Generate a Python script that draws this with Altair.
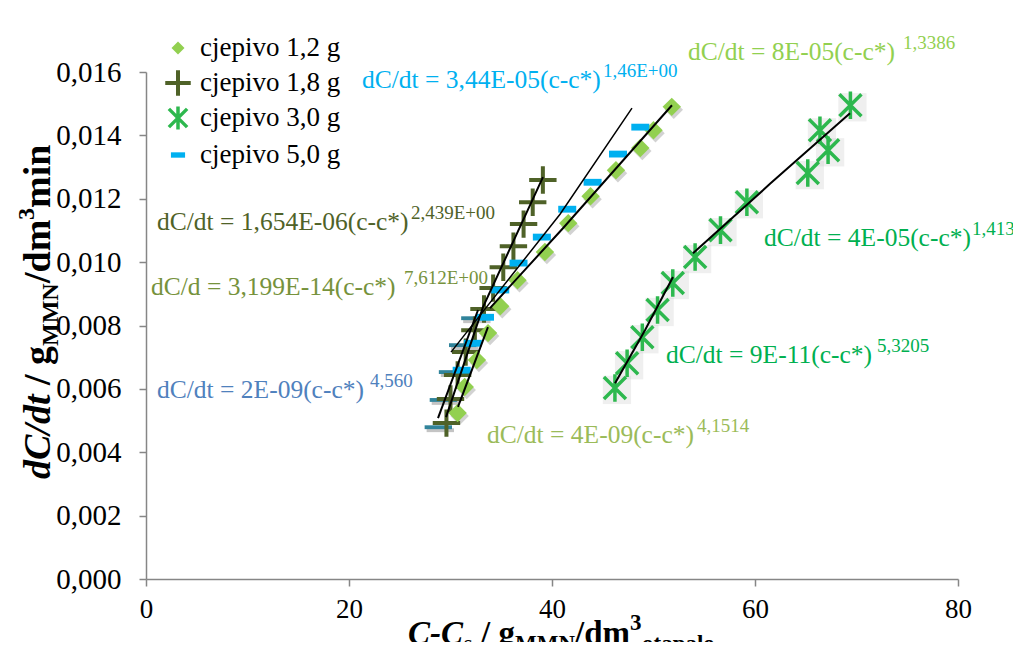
import altair as alt
import pandas as pd

# ---------------- data ----------------
x_12 = [51.8, 50.0, 48.7, 46.3, 43.8, 41.6, 39.3, 36.6, 34.9, 33.7, 32.6, 31.4, 30.7]
y_12 = [0.0149, 0.01416, 0.0136, 0.0129, 0.01208, 0.01123, 0.01032, 0.00943, 0.00861, 0.00776, 0.00691, 0.00606, 0.00524]
x_18 = [39.1, 38.1, 37.2, 36.2, 35.2, 34.2, 33.3, 32.4, 31.5, 30.7, 30.0, 29.6]
y_18 = [0.01259, 0.01189, 0.0112, 0.0105, 0.00984, 0.00918, 0.00852, 0.00785, 0.00716, 0.00644, 0.00568, 0.00492]
x_30 = [69.4, 66.4, 67.2, 65.2, 59.2, 56.6, 54.1, 51.9, 50.4, 48.9, 47.4, 46.2]
y_30 = [0.01495, 0.01416, 0.01353, 0.01281, 0.01189, 0.01101, 0.01016, 0.00934, 0.00849, 0.00763, 0.00681, 0.00603]
x_50 = [48.7, 46.5, 44.0, 41.5, 39.0, 36.7, 34.9, 33.4, 32.2, 31.1]
y_50 = [0.01426, 0.01341, 0.01252, 0.01167, 0.01079, 0.00997, 0.00912, 0.00826, 0.00744, 0.00659]
x_50b = [32.4, 31.2, 30.2, 29.3, 28.8]
y_50b = [0.00823, 0.00738, 0.00653, 0.00565, 0.00479]

# trend lines
fit_ids = ["A", "A", "A", "A", "B", "B", "B", "C", "C", "C", "D", "D", "E", "E", "S1", "S1", "S1", "S2", "S2", "S2"]
fit_x = [30.05, 34.09, 40.79, 47.88, 33.89, 41.08, 51.82, 29.56, 33.20, 39.11, 28.77, 32.71, 30.74, 33.69,
         46.21, 49.16, 51.92, 53.89, 61.48, 69.36]
fit_y = [0.00716, 0.00880, 0.01151, 0.01486, 0.00855, 0.01107, 0.01495, 0.00511, 0.00858, 0.01268, 0.00508,
         0.00849, 0.00543, 0.00795, 0.00618, 0.00785, 0.00953, 0.01028, 0.01247, 0.0147]

legend_labels = ["cjepivo 1,2 g", "cjepivo 1,8 g", "cjepivo 3,0 g", "cjepivo 5,0 g"]

eq_texts = ["dC/dt = 3,44E-05(c-c*)", "dC/dt = 8E-05(c-c*)", "dC/dt = 1,654E-06(c-c*)",
            "dC/d = 3,199E-14(c-c*)", "dC/dt = 2E-09(c-c*)", "dC/dt = 4E-09(c-c*)",
            "dC/dt = 4E-05(c-c*)", "dC/dt = 9E-11(c-c*)"]
eq_powers = ["1,46E+00", "1,3386", "2,439E+00", "7,612E+00", "4,560", "4,1514", "1,413", "5,3205"]

y_ticks = [0.0, 0.002, 0.004, 0.006, 0.008, 0.010, 0.012, 0.014, 0.016]
x_ticks = [0, 20, 40, 60, 80]

# ---------------- layout / style ----------------
FONT = "Times New Roman, Liberation Serif, DejaVu Serif, serif"
NB = "\u00a0"
W, H = 812, 507
OX, OY = 146, 72   # page position of plot origin

eq_colors = ["#00B0F0", "#92D050", "#4F6228", "#76923C", "#4F81BD", "#9BBB59", "#00B050", "#00B050"]
eq_pos = [(362, 80), (688, 52), (157, 222), (151, 287), (157, 390), (487, 435), (764, 238), (666, 355)]
pw_pos = [(603, 71), (903, 43), (411, 213), (404, 278), (370, 381), (697, 426), (972, 229), (877, 346)]

def pts(xs, ys):
    return pd.DataFrame({"x": xs, "y": ys})

xs = alt.Scale(domain=[0, 80], nice=False, zero=False)
ys = alt.Scale(domain=[0, 0.016], nice=False)

xax = alt.Axis(values=x_ticks, title=None, grid=False, domainColor="#868686", tickColor="#868686",
               tickSize=7, labelFont=FONT, labelFontSize=27, labelColor="black", labelPadding=10,
               domainWidth=1.5, tickWidth=1.5, labelFlush=False)
yax = alt.Axis(values=y_ticks, title=None, grid=False, domainColor="#868686", tickColor="#868686",
               tickSize=7, labelFont=FONT, labelFontSize=29, labelColor="black", labelPadding=18,
               domainWidth=1.5, tickWidth=1.5, labelExpr="replace(format(datum.value, '.3f'), '.', ',')")

def enc(ch):
    return ch.encode(x=alt.X("x:Q", scale=xs, axis=xax), y=alt.Y("y:Q", scale=ys, axis=yax))

PLUS = "M-1,0L1,0M0,-1L0,1"
STAR = "M-0.8,-0.8L0.8,0.8M-0.8,0.8L0.8,-0.8M0,-1L0,1"
DASH = "M-1,-0.38L1,-0.38L1,0.38L-1,0.38Z"
DASHB = "M-1,-0.14L1,-0.14L1,0.14L-1,0.14Z"

fits = pd.DataFrame({"fit": fit_ids, "x": fit_x, "y": fit_y})
fits["w"] = fits["fit"].map({"A": 1.5}).fillna(2.0)

layers = []
# shadows
layers.append(enc(alt.Chart(pts(x_12, y_12)).mark_point(shape="diamond", filled=True, size=340, color="#7f7f7f",
                                                      opacity=0.35, xOffset=2, yOffset=3)))
layers.append(enc(alt.Chart(pts(x_50b, y_50b)).mark_point(shape=DASHB, filled=True, size=750, color="#555555",
                                                        opacity=0.35, xOffset=2, yOffset=3, strokeWidth=0)))
layers.append(enc(alt.Chart(pts(x_50b, y_50b)).mark_point(shape=DASHB, filled=True, size=750, color="#31849B",
                                                        opacity=1, strokeWidth=0)))
layers.append(enc(alt.Chart(pts(x_18, y_18)).mark_point(shape=PLUS, filled=False, size=750, color="#4F6228",
                                                      strokeWidth=4, opacity=1)))
layers.append(enc(alt.Chart(pts(x_12, y_12)).mark_point(shape="diamond", filled=True, size=340, color="#92D050",
                                                      opacity=1, strokeWidth=0)))
layers.append(enc(alt.Chart(pts(x_50, y_50)).mark_point(shape=DASH, filled=True, size=324, color="#00B0F0",
                                                      opacity=1, strokeWidth=0)))
layers.append(enc(alt.Chart(pts(x_30, y_30)).mark_point(shape="square", filled=True, size=800, color="#bfbfbf",
                                                      opacity=0.25, xOffset=2, yOffset=2, strokeWidth=0)))
layers.append(enc(alt.Chart(pts(x_30, y_30)).mark_point(shape=STAR, filled=False, size=760, color="#2DB84E",
                                                      strokeWidth=3.5, opacity=1)))
layers.append(alt.Chart(fits).mark_line(color="black").encode(
    x=alt.X("x:Q", scale=xs, axis=xax), y=alt.Y("y:Q", scale=ys, axis=yax), detail="fit:N",
    size=alt.Size("w:Q", scale=None, legend=None)))

# ---------------- text helpers ----------------
def txt(df, **props):
    return alt.Chart(df).mark_text(font=FONT, **props).encode(
        x=alt.X("px:Q", scale=None, axis=None), y=alt.Y("py:Q", scale=None, axis=None),
        text="t:N", color=alt.Color("c:N", scale=None, legend=None))

eq_df = pd.DataFrame({"t": eq_texts, "px": [p[0] - OX for p in eq_pos], "py": [p[1] - OY for p in eq_pos],
                      "c": eq_colors})
pw_df = pd.DataFrame({"t": eq_powers, "px": [p[0] - OX for p in pw_pos], "py": [p[1] - OY for p in pw_pos],
                      "c": eq_colors})
layers.append(txt(eq_df, fontSize=25.5, align="left", baseline="middle"))
layers.append(txt(pw_df, fontSize=19, align="left", baseline="middle"))

# legend
leg_rows = [48, 83, 118, 155]
leg_df = pd.DataFrame({"t": legend_labels, "px": [200 - OX] * 4, "py": [r - OY for r in leg_rows], "c": ["black"] * 4})
layers.append(txt(leg_df, fontSize=27, align="left", baseline="middle"))
sym_specs = [("diamond", True, 170, "#92D050", 0), (PLUS, False, 650, "#4F6228", 4),
             (STAR, False, 520, "#2DB84E", 3.5), (DASH, True, 200, "#00B0F0", 0)]
for (shape, filled, size, col, sw), r in zip(sym_specs, leg_rows):
    layers.append(alt.Chart(pd.DataFrame({"px": [178 - OX], "py": [r - OY]})).mark_point(
        shape=shape, filled=filled, size=size, color=col, strokeWidth=sw, opacity=1).encode(
        x=alt.X("px:Q", scale=None, axis=None), y=alt.Y("py:Q", scale=None, axis=None)))

# axis titles built from pieces (sub/superscripts)
BY = 644
xt = [("C-C", 408, BY, 33, "bold", "italic"), ("s", 463, BY + 7, 23, "normal", "italic"),
      ("/" + NB + "g", 481, BY, 33, "bold", "normal"), ("MMN", 515, BY + 7, 23, "bold", "normal"),
      ("/dm", 575, BY, 33, "bold", "normal"), ("3", 630, BY - 14, 23, "bold", "normal"),
      ("otapalo", 642, BY + 7, 23, "bold", "normal")]
for t, px, py, fs, fw, fst in xt:
    layers.append(txt(pd.DataFrame({"t": [t], "px": [px - OX], "py": [py - OY], "c": ["black"]}),
                      fontSize=fs, fontWeight=fw, fontStyle=fst, align="left", baseline="alphabetic"))

yt = [("dC/dt", 50, 479, 38, "bold", "italic"), ("/" + NB + "g", 50, 385, 38, "bold", "normal"),
      ("MMN", 58, 346, 24, "bold", "normal"), ("/dm", 50, 283, 38, "bold", "normal"),
      ("3", 34, 220, 24, "bold", "normal"), ("min", 50, 208, 38, "bold", "normal")]
for t, px, py, fs, fw, fst in yt:
    layers.append(txt(pd.DataFrame({"t": [t], "px": [px - OX], "py": [py - OY], "c": ["black"]}),
                      fontSize=fs, fontWeight=fw, fontStyle=fst, align="left", baseline="alphabetic",
                      angle=270))

chart = alt.layer(*layers).properties(
    width=W, height=H,
    autosize=alt.AutoSizeParams(type="none"),
    padding={"left": 138, "top": 64, "right": 55, "bottom": 63},
    background="white",
).configure_view(stroke=None)

chart.save("out.html", embed_options={"renderer": "svg", "actions": False})
